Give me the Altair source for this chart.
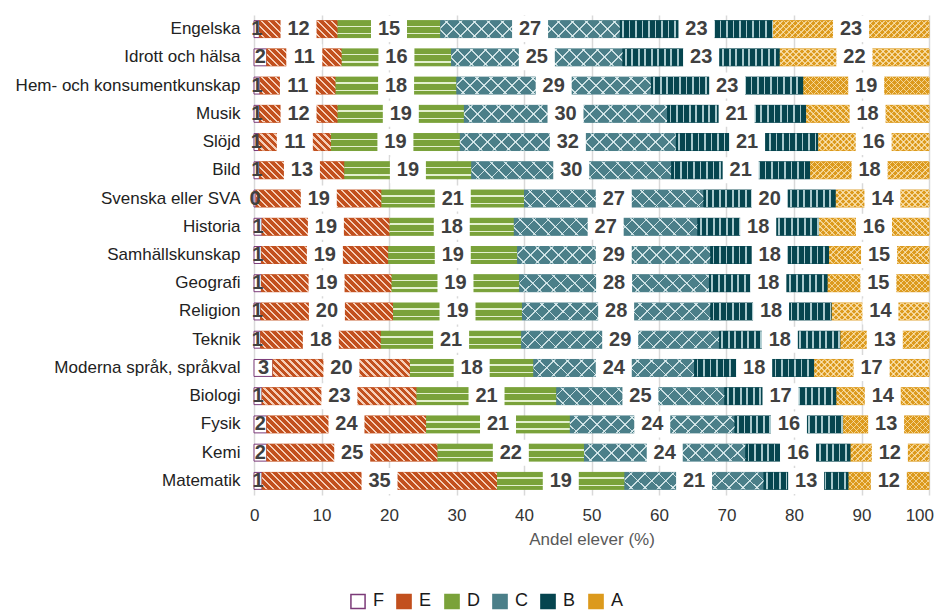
import altair as alt

# ---------------- data ----------------
subjects = [
    "Engelska", "Idrott och hälsa", "Hem- och konsumentkunskap", "Musik", "Slöjd",
    "Bild", "Svenska eller SVA", "Historia", "Samhällskunskap", "Geografi",
    "Religion", "Teknik", "Moderna språk, språkval", "Biologi", "Fysik", "Kemi",
    "Matematik",
]
grades = ["F", "E", "D", "C", "B", "A"]
share_F = [0.8, 1.9, 0.9, 0.8, 0.7, 0.8, 0.3, 1.2, 1.1, 1.1, 1.0, 1.0, 2.8, 1.2, 1.9, 1.9, 1.2]
share_E = [11.6, 11.1, 11.2, 11.6, 10.7, 12.6, 18.6, 18.9, 18.8, 19.3, 19.6, 17.8, 20.3, 22.9, 23.6, 25.3, 34.8]
share_D = [15.2, 16.2, 17.9, 18.7, 19.1, 18.8, 21.1, 18.4, 19.1, 18.9, 19.1, 20.8, 18.3, 20.7, 21.3, 21.7, 18.9]
share_C = [26.6, 25.4, 28.8, 30.1, 32.0, 29.6, 26.6, 27.2, 28.6, 28.1, 27.9, 29.3, 23.8, 24.9, 24.4, 23.9, 20.6]
share_B = [22.7, 23.3, 22.6, 20.6, 21.1, 20.6, 19.6, 18.0, 17.6, 17.6, 18.0, 18.0, 17.8, 16.6, 16.1, 15.6, 12.6]
share_A = [23.1, 22.1, 18.6, 18.2, 16.4, 17.6, 13.8, 16.3, 14.8, 15.0, 14.4, 13.1, 17.0, 13.7, 12.7, 11.6, 11.9]
series = [share_F, share_E, share_D, share_C, share_B, share_A]

# ---------------- style constants ----------------
PLOT_W, PLOT_H = 675, 480
PX_PER_UNIT = PLOT_W / 100.0
BAR_H = 17
FONT = "Liberation Sans"
base_colors = ["#ffffff", "#c2501e", "#7aa23a", "#4b7f89", "#06454f", "#dc9a1d"]
stroke_colors = ["#7b3a78", "#c2501e", "#7aa23a", "#4b7f89", "#06454f", "#dc9a1d"]
BASE = dict(zip(grades, base_colors))
CLEAR = "rgba(0,0,0,0)"


def _stops(length, period, lw, base, line, phase):
    out = [{"offset": 0, "color": base}]
    pos = phase
    while pos < length:
        s = max(pos, 0.0) / length
        e = min(pos + lw, length) / length
        if e > s:
            s, e = round(s, 4), round(e, 4)
            out += [
                {"offset": s, "color": base}, {"offset": s, "color": line},
                {"offset": e, "color": line}, {"offset": e, "color": base},
            ]
        pos += period
    out.append({"offset": 1, "color": base})
    return out


def _linear(p1, p2, stops):
    return {"gradient": "linear", "x1": round(p1[0], 5), "y1": round(p1[1], 5),
            "x2": round(p2[0], 5), "y2": round(p2[1], 5), "stops": stops}


def diag_back(w, h, period, lw, base, line):   # "\" stripes
    L = w + h
    s = L / (w * w + h * h)
    return _linear((0, 1), (s * w, 1 - s * h), _stops(L, period, lw, base, line, period / 2))


def diag_fwd(w, h, period, lw, base, line):    # "/" stripes
    L = w + h
    s = L / (w * w + h * h)
    return _linear((0, 0), (s * w, s * h), _stops(L, period, lw, base, line, period / 2))


def vert(w, period, lw, base, line):
    return _linear((0, 0), (1, 0), _stops(w, period, lw, base, line, (period - lw) / 2))


def horiz(h, base, line, rows):
    stops = [{"offset": 0, "color": base}]
    for y0, lw in rows:
        s, e = round(y0 / h, 4), round((y0 + lw) / h, 4)
        stops += [{"offset": s, "color": base}, {"offset": s, "color": line},
                  {"offset": e, "color": line}, {"offset": e, "color": base}]
    stops.append({"offset": 1, "color": base})
    return _linear((0, 0), (0, 1), stops)


def pattern(g, w, h):
    if g == "E":
        return diag_back(w, h, 7.0, 2.4, BASE["E"], "rgba(255,228,210,0.85)"), CLEAR
    if g == "D":
        return horiz(h, BASE["D"], "rgba(238,248,222,0.9)", [(5.0, 1.6), (12.6, 1.3)]), CLEAR
    if g == "C":
        ln = "rgba(225,240,242,0.85)"
        return (diag_back(w, h, 14.0, 1.8, BASE["C"], ln),
                diag_fwd(w, h, 14.0, 1.8, CLEAR, ln))
    if g == "B":
        return vert(w, 6.5, 1.7, BASE["B"], "#a9c9cd"), CLEAR
    if g == "A":
        ln = "rgba(255,238,200,0.65)"
        return (diag_back(w, h, 6.0, 1.4, BASE["A"], ln),
                diag_fwd(w, h, 6.0, 1.4, CLEAR, ln))
    return BASE["F"], CLEAR


records = []
for i, subj in enumerate(subjects):
    start = 0.0
    for g, vals in zip(grades, series):
        v = vals[i]
        w = max(v * PX_PER_UNIT, 0.5)
        f1, f2 = pattern(g, w, BAR_H)
        records.append({
            "subject": subj, "grade": g, "value": v,
            "start": start, "end": start + v, "mid": start + v / 2,
            "fill1": f1, "fill2": f2,
        })
        start += v

data = alt.Data(values=records)

y_axis = alt.Axis(title=None, domain=False, ticks=False, grid=False,
                  labelFont=FONT, labelFontSize=17, labelColor="#222222",
                  labelPadding=14, labelLimit=400)
y_scale = alt.Scale(paddingInner=0.4, paddingOuter=0.2)
x_axis = alt.Axis(values=list(range(0, 101, 10)), title="Andel elever (%)",
                  grid=True, gridColor="#d9d9d9", gridWidth=1.5,
                  domain=False, ticks=False, labelFlush=True, labelFlushOffset=4.5,
                  labelFont=FONT, labelFontSize=17, labelColor="#333333",
                  labelPadding=12, titleFont=FONT, titleFontSize=17,
                  titleFontWeight="normal", titleColor="#595959", titlePadding=8)
x_scale = alt.Scale(domain=[0, 100], nice=False)


def X(field):
    return alt.X(field, scale=x_scale, axis=x_axis, title="Andel elever (%)")


def Y():
    return alt.Y("subject:N", sort=subjects, scale=y_scale, axis=y_axis)


legend = alt.Legend(
    title=None, orient="none", legendX=95, legendY=577, direction="horizontal",
    symbolType="square", symbolSize=200, symbolStrokeWidth=1.5,
    labelFont=FONT, labelFontSize=18, labelColor="#1a1a1a",
    columnPadding=9, labelOffset=6,
)

underlay = alt.Chart(data).mark_bar(strokeWidth=1).encode(
    x=X("start:Q"), x2="end:Q", y=Y(),
    fill=alt.Fill("grade:N", scale=alt.Scale(domain=grades, range=base_colors), legend=legend),
    stroke=alt.Stroke("grade:N", scale=alt.Scale(domain=grades, range=stroke_colors), legend=legend),
)

patterns = alt.Chart(data).transform_filter("datum.grade != 'F'").mark_bar(strokeWidth=0).encode(
    x=X("start:Q"), x2="end:Q", y=Y(),
    fill=alt.Fill("fill1:N", scale=None, legend=None),
)

overlay = alt.Chart(data).transform_filter("datum.grade == 'C' || datum.grade == 'A'").mark_bar(strokeWidth=0).encode(
    x=X("start:Q"), x2="end:Q", y=Y(),
    fill=alt.Fill("fill2:N", scale=None, legend=None),
)

boxes = alt.Chart(data).transform_filter("datum.grade != 'F'").mark_bar(
    color="white", size=26, xOffset=-18, x2Offset=18
).encode(
    x=X("mid:Q"), x2="mid:Q", y=Y(),
)

texts = alt.Chart(data).mark_text(
    font=FONT, fontSize=20, fontWeight="bold", color="#404040"
).encode(
    x=X("mid:Q"), y=Y(),
    text=alt.Text("value:Q", format=".0f"),
)

chart = alt.layer(underlay, patterns, overlay, boxes, texts).resolve_scale(
    fill="independent", stroke="independent"
).properties(
    width=PLOT_W, height=PLOT_H,
    padding={"left": 7, "top": 7, "right": 0, "bottom": 0},
).configure_view(stroke=None)

chart.save("out.html", embed_options={"renderer": "svg", "actions": False})
